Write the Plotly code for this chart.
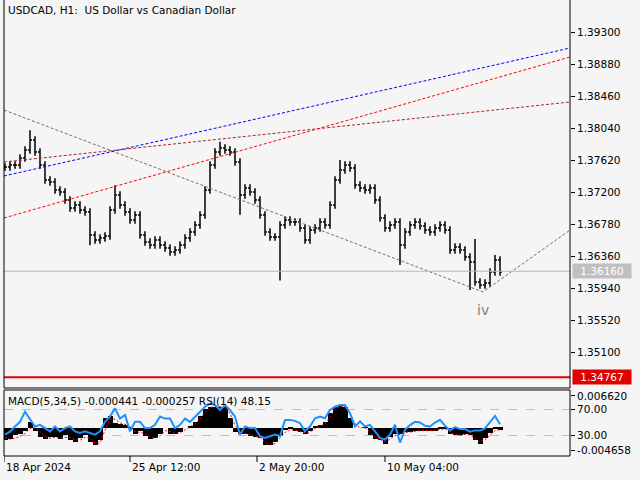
import plotly.graph_objects as go

closes = [1.37528,1.37554,1.37554,1.37646,1.37751,1.37883,1.37725,1.37554,1.37358,1.37331,
1.37226,1.37200,1.37095,1.36990,1.37029,1.36964,1.36938,1.36636,1.36570,1.36596,
1.36623,1.36964,1.37161,1.37029,1.36938,1.36833,1.36898,1.36636,1.36544,1.36504,
1.36570,1.36504,1.36465,1.36413,1.36439,1.36504,1.36596,1.36675,1.36767,1.36898,
1.37226,1.37554,1.37725,1.37778,1.37751,1.37725,1.37594,1.37161,1.37253,1.37200,
1.37095,1.36898,1.36675,1.36609,1.36609,1.36767,1.36833,1.36806,1.36806,1.36728,
1.36570,1.36701,1.36728,1.36806,1.36767,1.37029,1.37358,1.37489,1.37554,1.37515,
1.37292,1.37253,1.37226,1.37253,1.37095,1.36859,1.36728,1.36767,1.36806,1.36504,
1.36675,1.36767,1.36806,1.36754,1.36701,1.36675,1.36728,1.36767,1.36701,1.36439,
1.36478,1.36439,1.36347,1.36281,1.36019,1.35979,1.36006,1.36150,1.36308,1.36150]
spike_high = {5: 1.3801, 22: 1.3729, 94: 1.36583, 98: 1.36373, 43: 1.3786, 67: 1.3762}
spike_low = {55: 1.3604, 79: 1.36242, 93: 1.35914, 17: 1.3650, 47: 1.3690}

macd_hist = [-26,-24,-16,-14,-6,12,-6,-20,-23,-20,-20,-23,-16,-25,-30,-22,-15,-30,-37,-25,
20,24,10,8,6,-2,-13,-6,-18,-23,-22,-13,0,-13,-13,-9,0,4,12,24,
40,44,44,43,43,20,-8,-13,-13,-18,-20,-22,-37,-37,-30,-15,-5,-3,-6,-10,
-13,-7,3,5,12,30,44,46,44,20,0,0,1,-15,-23,-25,-33,-20,-13,-14,
-9,-9,-6,-6,-6,-6,-6,-3,-1,-13,-16,-16,-13,-16,-25,-33,-22,-12,-2,-4]
macd_signal = [-20,-24,-22,-18,-12,-2,2,-8,-18,-22,-20,-21,-20,-20,-25,-26,-20,-22,-32,-32,
-5,18,18,10,7,2,-8,-10,-12,-20,-22,-17,-6,-8,-12,-11,-4,2,8,18,
32,42,44,43,43,30,5,-8,-12,-15,-18,-20,-30,-36,-33,-22,-10,-4,-5,-8,
-11,-9,-2,3,8,22,38,44,44,30,8,0,0,-10,-20,-24,-30,-24,-16,-14,
-10,-9,-7,-6,-6,-6,-6,-4,-2,-9,-14,-16,-14,-15,-22,-30,-25,-16,-6,-4]
rsi = [31.5,36,44,51,66.5,56,44,46.5,41.5,36.5,44,36.5,41.5,44,36.5,34,36.5,34,31.5,36.5,
51,59,71.5,56,61.5,36.5,51,51,41.5,41.5,46.5,59,56,56,41.5,46.5,56,51,59,66.5,
74,79,76.5,69,76.5,69,59,31.5,44,41.5,41.5,29,26.5,29,31.5,29,54,54,52.5,49,
36.5,44,56.5,59,56.5,69,74,76.5,76.5,64,44,51.5,44,46.5,36.5,26.5,24,31.5,46.5,19.5,
39,46,51,50,45,44,50,54,45,38,43,40,40,36,38,38,41,50,60,47.5]

price_ticks = [1.39300,1.38880,1.38460,1.38040,1.37620,1.37200,1.36780,1.36360,1.35940,1.35520,1.35100]
time_labels = ["18 Apr 2024", "25 Apr 12:00", "2 May 20:00", "10 May 04:00"]
time_pos = [-0.2, 25.0, 50.4, 76.0]
current_price = 1.36160
support_price = 1.34767

trend_blue = ([-0.2, 113], [1.3741, 1.3909])
trend_darkred = ([-0.2, 113], [1.37594, 1.38381])
trend_red = ([-0.2, 113], [1.36859, 1.38972])
trend_gray = ([-0.2, 95.6, 113], [1.38276, 1.35888, 1.36701])

n = len(closes)
xs = list(range(n))
opens = [closes[0]] + closes[:-1]
highs = [max(o, c) + 0.0005 for o, c in zip(opens, closes)]
lows = [min(o, c) - 0.0005 for o, c in zip(opens, closes)]
for k, v in spike_high.items():
    highs[k] = v
for k, v in spike_low.items():
    lows[k] = v

FONT = "DejaVu Sans"
BG = "#f5f5f5"
XR = [-0.2, 113.0]
FS = 10.5

fig = go.Figure()
for (tx, ty), col in [(trend_gray, "#707070"), (trend_blue, "#0000ff"),
                      (trend_darkred, "#b22222"), (trend_red, "#ff0000")]:
    fig.add_trace(go.Scatter(x=tx, y=ty, mode="lines", line=dict(color=col, width=1, dash="3px,2px"),
                             hoverinfo="skip", showlegend=False, xaxis="x", yaxis="y"))
fig.add_trace(go.Scatter(x=XR, y=[current_price]*2, mode="lines", line=dict(color="#b8b8b8", width=1),
                         showlegend=False, xaxis="x", yaxis="y"))
fig.add_trace(go.Scatter(x=XR, y=[support_price]*2, mode="lines", line=dict(color="#e00000", width=2),
                         showlegend=False, xaxis="x", yaxis="y"))
fig.add_trace(go.Ohlc(x=xs, open=opens, high=highs, low=lows, close=closes,
                      increasing=dict(line=dict(color="black", width=1.5)),
                      decreasing=dict(line=dict(color="black", width=1.5)),
                      tickwidth=0.4, showlegend=False, xaxis="x", yaxis="y"))

fig.add_trace(go.Bar(x=xs, y=[v*1e-4 for v in macd_hist], marker=dict(color="black", line=dict(width=0)),
                     width=1.0, showlegend=False, xaxis="x2", yaxis="y2"))
fig.add_trace(go.Scatter(x=xs, y=[v*1e-4 for v in macd_signal], mode="lines",
                         line=dict(color="#ff0000", width=1, dash="2px,2px"), showlegend=False,
                         xaxis="x2", yaxis="y2"))
fig.add_trace(go.Scatter(x=xs, y=rsi, mode="lines", line=dict(color="#1e90ff", width=2),
                         showlegend=False, xaxis="x2", yaxis="y3"))

ann = [
    dict(text="USDCAD, H1:  US Dollar vs Canadian Dollar", x=6/640, y=1-2/480, xref="paper", yref="paper",
         xanchor="left", yanchor="top", showarrow=False, font=dict(size=FS, color="black", family=FONT)),
    dict(text="MACD(5,34,5) -0.000441 -0.000257 RSI(14) 48.15", x=6/640, y=1-393/480, xref="paper",
         yref="paper", xanchor="left", yanchor="top", showarrow=False, font=dict(size=FS, color="black", family=FONT)),
    dict(text=f"{current_price:.5f}", x=572/640, y=current_price, xref="paper", yref="y", xanchor="left",
         yanchor="middle", showarrow=False, bgcolor="#c0c0c0", font=dict(size=FS, color="white", family=FONT),
         width=56, borderpad=1),
    dict(text=f"{support_price:.5f}", x=572/640, y=support_price, xref="paper", yref="y", xanchor="left",
         yanchor="middle", showarrow=False, bgcolor="#e00000", font=dict(size=FS, color="white", family=FONT),
         width=56, borderpad=1),
    dict(text="iv", x=95.6, y=1.35651, xref="x", yref="y", showarrow=False,
         font=dict(size=14, color="#8a7f7a", family=FONT)),
]
for lbl, p in zip(time_labels, time_pos):
    ann.append(dict(text=lbl, x=p, y=1-459/480, xref="x2", yref="paper", xanchor="left", yanchor="top",
                    showarrow=False, font=dict(size=FS, color="black", family=FONT)))

shapes = [
    dict(type="line", xref="paper", yref="paper", x0=4/640, x1=4/640, y0=1-388/480, y1=1, line=dict(color="black", width=1)),
    dict(type="line", xref="paper", yref="paper", x0=570/640, x1=570/640, y0=1-388/480, y1=1, line=dict(color="black", width=1)),
    dict(type="line", xref="paper", yref="paper", x0=4/640, x1=570/640, y0=1-388/480, y1=1-388/480, line=dict(color="black", width=1)),
    dict(type="rect", xref="paper", yref="paper", x0=4/640, x1=570/640, y0=1-456/480, y1=1-390/480, line=dict(color="black", width=1)),
]
for p in time_pos:
    shapes.append(dict(type="line", xref="x2", yref="paper", x0=p, x1=p,
                       y0=1-456/480, y1=1-462/480, line=dict(color="black", width=1)))

fig.update_layout(
    width=640, height=480, margin=dict(l=0, r=0, t=0, b=0),
    paper_bgcolor=BG, plot_bgcolor=BG, font=dict(family=FONT, size=FS, color="black"),
    bargap=0,
    xaxis=dict(domain=[4/640, 570/640], range=XR, showticklabels=False, showgrid=False, zeroline=False,
               anchor="y", rangeslider=dict(visible=False)),
    yaxis=dict(domain=[1-388/480, 1], range=[1.346275, 1.3972], side="right", tickvals=price_ticks,
               ticktext=[f"{v:.5f}" for v in price_ticks], ticks="outside", ticklen=4, tickcolor="black",
               showgrid=False, zeroline=False, anchor="x", tickfont=dict(size=FS)),
    xaxis2=dict(domain=[4/640, 570/640], range=XR, showticklabels=False, showgrid=False, zeroline=False,
                anchor="y2"),
    yaxis2=dict(domain=[1-456/480, 1-390/480], range=[-0.00591, 0.00787], side="right",
                tickvals=[0.00662, -0.004658], ticktext=["0.006620", "-0.004658"], ticks="outside",
                ticklen=4, tickcolor="black", showgrid=False, zeroline=False, anchor="x2", tickfont=dict(size=FS)),
    yaxis3=dict(domain=[1-456/480, 1-390/480], range=[-1, 99.5], overlaying="y2", side="right",
                tickvals=[70, 30], ticktext=["70.00", "30.00"], ticks="outside", ticklen=4, tickcolor="black",
                showgrid=True, gridcolor="#c0c0c0", griddash="dash", zeroline=False, anchor="x2",
                tickfont=dict(size=FS)),
    annotations=ann, shapes=shapes,
)
fig.write_html("out.html", config={"displayModeBar": False},
               post_script="document.body.style.margin='0';document.body.style.background='#f5f5f5';")
